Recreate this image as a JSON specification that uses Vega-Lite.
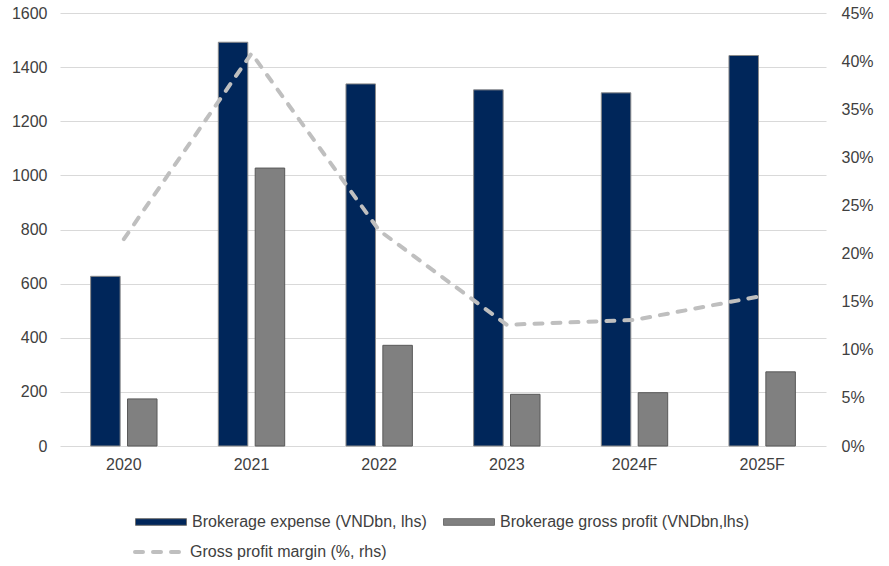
{
  "$schema": "https://vega.github.io/schema/vega-lite/v6.json",
  "width": 766,
  "height": 433,
  "autosize": {"type": "none"},
  "padding": {"left": 60, "top": 13, "right": 63, "bottom": 120},
  "background": "white",
  "config": {
    "view": {"stroke": null},
    "font": "Liberation Sans",
    "axis": {"labelFont": "Liberation Sans", "labelFontSize": 16, "labelColor": "#404040", "domain": false, "ticks": false, "title": null},
    "legend": {"labelFont": "Liberation Sans", "labelFontSize": 16, "labelColor": "#404040", "title": null, "padding": 0, "labelLimit": 400}
  },
  "datasets": {
    "bars": [
      {"year": "2020", "series": "Brokerage expense (VNDbn, lhs)", "value": 627},
      {"year": "2020", "series": "Brokerage gross profit (VNDbn,lhs)", "value": 174},
      {"year": "2021", "series": "Brokerage expense (VNDbn, lhs)", "value": 1492},
      {"year": "2021", "series": "Brokerage gross profit (VNDbn,lhs)", "value": 1027},
      {"year": "2022", "series": "Brokerage expense (VNDbn, lhs)", "value": 1338},
      {"year": "2022", "series": "Brokerage gross profit (VNDbn,lhs)", "value": 372},
      {"year": "2023", "series": "Brokerage expense (VNDbn, lhs)", "value": 1316},
      {"year": "2023", "series": "Brokerage gross profit (VNDbn,lhs)", "value": 191},
      {"year": "2024F", "series": "Brokerage expense (VNDbn, lhs)", "value": 1305},
      {"year": "2024F", "series": "Brokerage gross profit (VNDbn,lhs)", "value": 197},
      {"year": "2025F", "series": "Brokerage expense (VNDbn, lhs)", "value": 1443},
      {"year": "2025F", "series": "Brokerage gross profit (VNDbn,lhs)", "value": 274}
    ],
    "margin": [
      {"year": "2020", "margin": 21.5},
      {"year": "2021", "margin": 40.8},
      {"year": "2022", "margin": 22.4},
      {"year": "2023", "margin": 12.6},
      {"year": "2024F", "margin": 13.1},
      {"year": "2025F", "margin": 15.6}
    ]
  },
  "layer": [
    {
      "data": {"name": "bars"},
      "mark": {"type": "bar", "strokeWidth": 1},
      "encoding": {
        "x": {
          "field": "year", "type": "nominal", "sort": null,
          "scale": {"paddingInner": 0.48, "paddingOuter": 0.24},
          "axis": {"labelAngle": 0, "labelPadding": 10, "grid": false}
        },
        "xOffset": {"field": "series", "type": "nominal", "sort": null, "scale": {"paddingInner": 0.2, "paddingOuter": 0}},
        "y": {
          "field": "value", "type": "quantitative",
          "scale": {"domain": [0, 1600], "nice": false},
          "axis": {"values": [0, 200, 400, 600, 800, 1000, 1200, 1400, 1600], "format": "d", "grid": true, "gridColor": "#d9d9d9", "gridWidth": 1, "labelPadding": 13}
        },
        "fill": {
          "field": "series", "type": "nominal",
          "scale": {"domain": ["Brokerage expense (VNDbn, lhs)", "Brokerage gross profit (VNDbn,lhs)"], "range": ["#00265a", "#808080"]},
          "legend": {
            "orient": "none", "legendX": 75, "legendY": 483, "direction": "horizontal",
            "symbolType": "M-1,-0.13H1V0.13H-1Z", "symbolSize": 2601,
            "symbolStrokeColor": "#6f6f6f", "symbolStrokeWidth": 1,
            "labelOffset": 5, "columnPadding": 14
          }
        },
        "stroke": {
          "field": "series", "type": "nominal",
          "scale": {"domain": ["Brokerage expense (VNDbn, lhs)", "Brokerage gross profit (VNDbn,lhs)"], "range": ["#8a8a8a", "#595959"]},
          "legend": null
        }
      }
    },
    {
      "data": {"name": "margin"},
      "mark": {"type": "line", "strokeWidth": 4, "strokeDash": [8, 10], "strokeCap": "round"},
      "encoding": {
        "x": {"field": "year", "type": "nominal", "sort": null},
        "y": {
          "field": "margin", "type": "quantitative",
          "scale": {"domain": [0, 45], "nice": false},
          "axis": {"orient": "right", "values": [0, 5, 10, 15, 20, 25, 30, 35, 40, 45], "labelExpr": "datum.value + '%'", "grid": false, "labelPadding": 15}
        },
        "stroke": {
          "datum": "Gross profit margin (%, rhs)",
          "scale": {"domain": ["Gross profit margin (%, rhs)"], "range": ["#bfbfbf"]},
          "legend": {
            "orient": "none", "legendX": 73, "legendY": 513,
            "symbolType": "stroke", "symbolSize": 2304, "symbolStrokeWidth": 4,
            "symbolDash": [8, 10], "symbolStrokeColor": "#bfbfbf", "labelOffset": 5,
            "encode": {"symbols": {"update": {"strokeCap": {"value": "round"}}}}
          }
        }
      }
    }
  ],
  "resolve": {"scale": {"y": "independent", "stroke": "independent"}}
}
